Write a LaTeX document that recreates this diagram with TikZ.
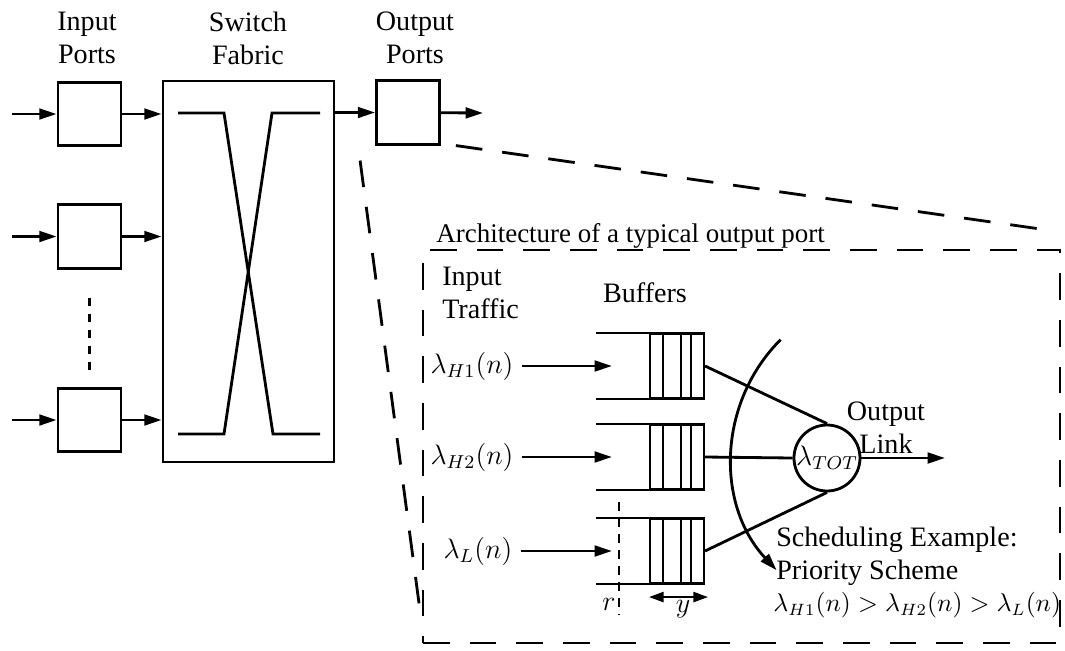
\documentclass[tikz,border=0pt]{standalone}
\usepackage{fontspec}
\setmainfont{Liberation Serif}
\usetikzlibrary{arrows.meta, positioning, calc}

\begin{document}
\begin{tikzpicture}[
    x=0.015cm, y=-0.015cm,
    every node/.style={font=\fontsize{12}{14}\selectfont, align=center},
    port/.style={rectangle, draw, line width=1.2pt, minimum width=0.945cm, minimum height=0.95cm, inner sep=0pt},
    fabric/.style={rectangle, draw, line width=1.2pt, minimum width=2.565cm, minimum height=5.715cm},
    bufcells/.style={rectangle, draw, line width=0.9pt, minimum width=0.81cm, minimum height=0.96cm, inner sep=0pt},
    sched/.style={circle, draw, line width=1.2pt, minimum size=0.96cm, inner sep=0pt},
    wire/.style={line width=1.2pt},
    arrow/.style={-{Triangle[length=2.6mm, width=1.6mm]}, line width=1.2pt},
    zoomline/.style={line width=1.2pt, dash pattern=on 4mm off 3mm},
    tick/.style={line width=1pt, dash pattern=on 1.3mm off 1.1mm}
]
    \useasboundingbox (0,0) rectangle (1065,650);

    % Input ports
    \node[port] (in1) at (89.5,114) {};
    \node[port] (in2) at (89.5,236.5) {};
    \node[port] (in3) at (89.5,420) {};
    \node (inlbl) at (87,38) {Input\\Ports};
    \draw[tick] (in2.south) ++(0,28) coordinate (dots1) -- ($(in3.north)+(0,-13)$);

    % Switch fabric
    \node[fabric] (sf) at (248.5,271.5) {};
    \node (sflbl) at (248,38) {Switch\\Fabric};
    \draw[wire] (178,113) -- (224,113) -- (273,434) -- (320,434);
    \draw[wire] (178,434) -- (224,434) -- (272,113) -- (320,113);

    % Output port
    \node[port] (op) at (408,112.5) {};
    \node (oplbl) at (415,38) {Output\\Ports};
    \coordinate (dst) at (483,113);

    % Arrows
    \foreach \i/\y in {1/114, 2/236.5, 3/420} {
        \coordinate (src\i) at (12,\y);
        \draw[arrow] (src\i) -- (in\i);
        \draw[arrow] (in\i) -- (in\i -| sf.west);
    }
    \draw[arrow] (sf.east |- op) -- (op);
    \draw[arrow] (op) -- (dst);

    % Output port detail
    \node[draw, zoomline, minimum width=9.555cm, minimum height=5.895cm] (arch) at (741.5,446.5) {};
    \node[anchor=west, inner sep=0pt, font=\fontsize{11.5}{14}\selectfont] (archlbl) at (436,236) {Architecture of a typical output port};
    \draw[zoomline] ($(op.south east)+(15,0)$) -- ($(arch.north east)+(-10,-18)$);
    \draw[zoomline] ($(op.south west)+(-15,15)$) -- ($(arch.south west)+(0,-22)$);

    \node[align=left, anchor=west] (trlbl) at (434,293) {Input\\Traffic};
    \node (buflbl) at (645,293) {Buffers};

    % Buffers
    \foreach \n/\y in {1/366, 2/457, 3/551} {
        \node[bufcells] (buf\n) at (677,\y) {};
        \draw[wire] (buf\n.north east) -- ++(-109,0);
        \draw[wire] (buf\n.south east) -- ++(-109,0);
        \foreach \dx in {14,32,42}
            \draw[line width=0.9pt] ($(buf\n.north west)+(\dx,0)$) -- ($(buf\n.south west)+(\dx,0)$);
    }
    \node (lh1) at (472,366) {$\lambda_{H1}(n)$};
    \node (lh2) at (472,457) {$\lambda_{H2}(n)$};
    \node (ll) at (478,551) {$\lambda_{L}(n)$};
    \draw[arrow] (lh1.east) -- ($(buf1.west)+(-37,0)$);
    \draw[arrow] (lh2.east) -- ($(buf2.west)+(-37,0)$);
    \draw[arrow] (ll.east) -- ($(buf3.west)+(-37,0)$);

    % r and y
    \draw[tick] ($(buf3.north west)+(-30,-16)$) -- ($(buf3.south west)+(-30,30)$);
    \node (rlbl) at (609,604) {$r$};
    \draw[{Triangle[length=2.2mm, width=1.5mm]}-{Triangle[length=2.2mm, width=1.5mm]}, line width=1pt] ($(buf3.south west)+(0,13)$) -- ($(buf3.south east)+(3,13)$);
    \node (ylbl) at (683,609) {$y$};

    % Scheduler
    \node[sched] (tot) at (827,458) {$\lambda_{TOT}$};
    \draw[wire] (buf1.east) -- (tot.north);
    \draw[wire] (buf2.east) -- (tot.west);
    \draw[wire] (buf3.east) -- (tot.south);
    \coordinate (link) at (945,458);
    \draw[arrow] (tot) -- (link);
    \node (linklbl) at (886,428) {Output\\Link};

    \coordinate (arcc) at (898,457);
    \draw[arrow] ([shift={(135:2.49cm)}]arcc) arc[start angle=135, end angle=223, radius=2.49cm];

    \node[anchor=west, align=left] (schlbl) at (768,556) {Scheduling Example:\\Priority Scheme};
    \node[anchor=west, inner sep=0pt, font=\fontsize{10.5}{12}\selectfont] (prio) at (773,605) {$\lambda_{H1}(n) > \lambda_{H2}(n) > \lambda_{L}(n)$};
\end{tikzpicture}
\end{document}
